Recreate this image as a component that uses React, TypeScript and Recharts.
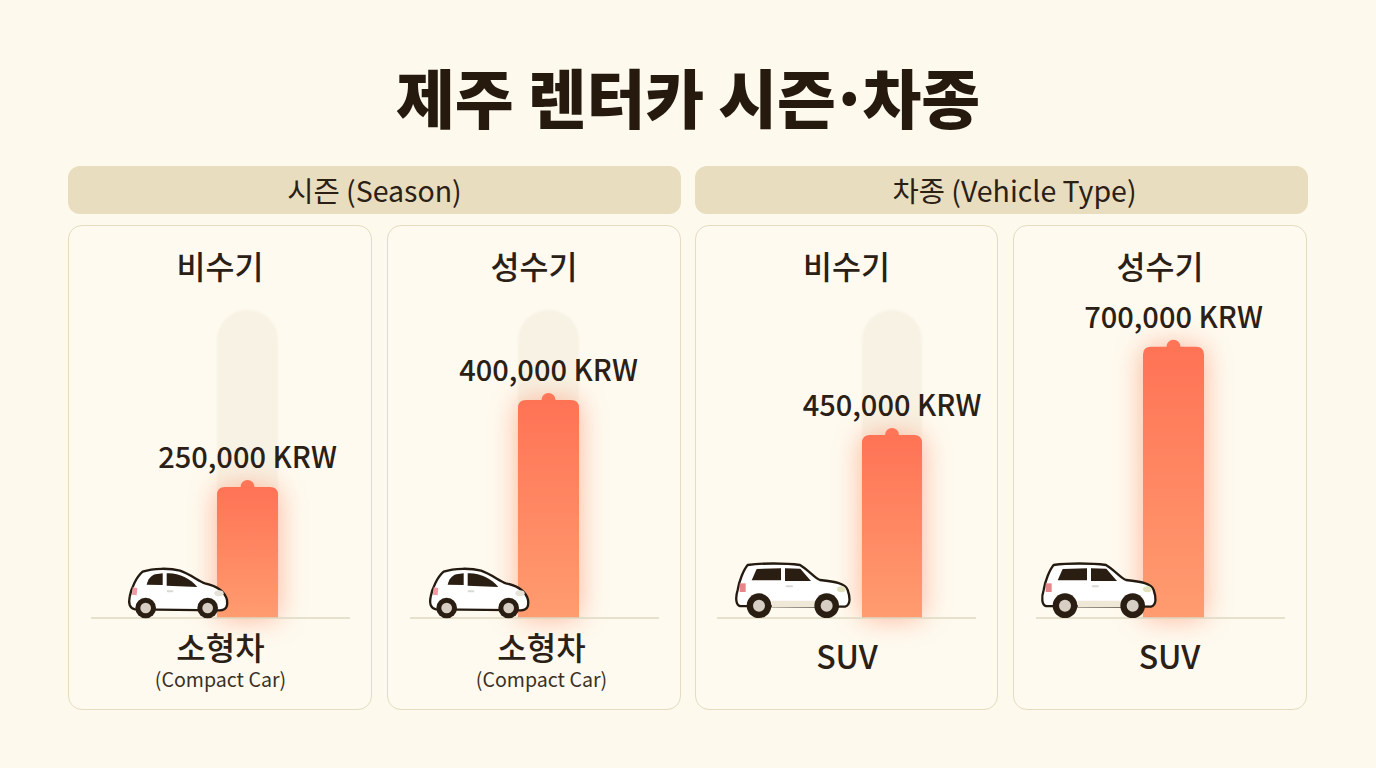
import React from 'react';
import { BarChart, Bar, XAxis, YAxis, LabelList } from 'recharts';

const FONT = '"Noto Sans CJK KR", "Noto Sans", sans-serif';

const seasonLabels = ['비수기', '성수기', '비수기', '성수기'];
const vehicleKo = ['소형차', '소형차', 'SUV', 'SUV'];
const vehicleEn = ['(Compact Car)', '(Compact Car)', '', ''];
const prices = [250000, 400000, 450000, 700000];
const scaleMax = [588000, 565000, 757000, 795000];
const showTrack = [true, true, true, false];
const groupTitles = ['시즌 (Season)', '차종 (Vehicle Type)'];

// card box, plot span, bar padding inside the plot
const layouts = [
  { left: 68, width: 304, plotL: 91, plotR: 350, padL: 126, padR: 72, labelDx: -27, car: 'compact', carX: 120 },
  { left: 387, width: 294, plotL: 410, plotR: 659, padL: 108, padR: 80, labelDx: -7, car: 'compact', carX: 421 },
  { left: 695, width: 303, plotL: 717, plotR: 976, padL: 145, padR: 54, labelDx: -45, car: 'suv', carX: 725 },
  { left: 1013, width: 294, plotL: 1036, plotR: 1285, padL: 107, padR: 81, labelDx: -4, car: 'suv', carX: 1031 },
];

const CARD_TOP = 225;
const CARD_H = 485;
const PLOT_TOP = 310;
const BASELINE = 618;

const PriceBar = (props: any) => {
  const { x, y, width, height, gradId, glowId } = props;
  const r = 8;
  const body = `M${x},${y + height} V${y + r} Q${x},${y} ${x + r},${y} H${x + width - r} Q${x + width},${y} ${x + width},${y + r} V${y + height} Z`;
  return (
    <g>
      <path d={body} fill="#FF9474" opacity={0.7} filter={`url(#${glowId})`} />
      <circle cx={x + width / 2} cy={y} r={7} fill="#FF7557" />
      <path d={body} fill={`url(#${gradId})`} />
    </g>
  );
};

const CategoryTick = (props: any) => {
  const { x, dx, ko, en } = props;
  const cx = x + dx;
  const y = BASELINE - CARD_TOP;
  if (en) {
    return (
      <g fontFamily={FONT} textAnchor="middle" fill="#2A2015">
        <text x={cx} y={y + 42} fontSize={32} fontWeight={500}>{ko}</text>
        <text x={cx} y={y + 69} fontSize={19.6} fill="#3A3023">{en}</text>
      </g>
    );
  }
  return (
    <text x={cx} y={y + 51} fontFamily={FONT} textAnchor="middle" fontSize={32} fontWeight={500} fill="#2A2015">{ko}</text>
  );
};

const PriceLabel = (props: any) => {
  const { x, y, width, value } = props;
  return (
    <text
      x={x + width / 2}
      y={y - 19}
      textAnchor="middle"
      fontFamily={FONT}
      fontSize={29}
      fontWeight={500}
      fill="#2A2015"
    >
      {`${Number(value).toLocaleString('en-US')} KRW`}
    </text>
  );
};

const CompactCar = ({ x }: { x: number }) => (
  <svg width={120} height={80} viewBox="0 0 360 240" style={{ position: 'absolute', left: x, top: 550 }}>
    <path d="M45 178 C28 175 25 160 29 140 C33 115 50 80 68 65 C100 54 150 54 180 62 C210 72 238 95 255 100 C290 108 315 125 321 150 C324 170 318 180 300 181 Z" fill="#fff" stroke="#241A10" strokeWidth={7} strokeLinejoin="round" />
    <path d="M80 104 C84 88 92 77 106 73 L128 70 L128 105 Z" fill="#2A1D12" />
    <path d="M140 70 C175 68 210 85 232 111 L140 107 Z" fill="#2A1D12" />
    <path d="M38 112 L52 114 L50 136 L36 134 Z" fill="#EE9AA0" />
    <ellipse cx={297} cy={130} rx={14} ry={9} fill="#E6E2D8" />
    <rect x={140} y={121} width={20} height={6} rx={3} fill="#D8D8D4" />
    <circle cx={77} cy={174} r={31} fill="#2A1D12" />
    <circle cx={77} cy={174} r={16} fill="#D8CFC4" />
    <circle cx={263} cy={174} r={31} fill="#2A1D12" />
    <circle cx={263} cy={174} r={16} fill="#D8CFC4" />
  </svg>
);

const SuvCar = ({ x }: { x: number }) => (
  <svg width={140} height={80} viewBox="0 0 420 240" style={{ position: 'absolute', left: x, top: 550 }}>
    <path d="M45 168 C32 165 31 142 38 120 C42 95 55 60 68 45 C110 39 180 39 225 45 C250 60 270 85 285 90 C330 95 362 100 368 120 C375 140 378 165 360 170 Z" fill="#fff" stroke="#241A10" strokeWidth={7} strokeLinejoin="round" />
    <path d="M140 152 L272 152 L272 171 L140 171 Z" fill="#EFE8D6" />
    <path d="M80 91 L95 57 L168 55 L168 91 Z" fill="#2A1D12" />
    <path d="M180 55 L226 56 L258 93 L180 93 Z" fill="#2A1D12" />
    <rect x={44} y={100} width={18} height={26} fill="#E8858A" />
    <ellipse cx={349} cy={118} rx={13} ry={9} fill="#E2E3BE" />
    <rect x={182} y={106} width={22} height={6} rx={3} fill="#D8D8D4" />
    <circle cx={102} cy={167} r={37} fill="#2A1D12" />
    <circle cx={102} cy={167} r={18} fill="#D8CFC4" />
    <circle cx={305} cy={167} r={37} fill="#2A1D12" />
    <circle cx={305} cy={167} r={18} fill="#D8CFC4" />
  </svg>
);

const Panel = ({ i }: { i: number }) => {
  const l = layouts[i];
  const data = [{ name: vehicleKo[i], price: prices[i] }];
  const gradId = `barFill${i}`;
  const glowId = `barGlow${i}`;
  const trackBlurId = `trackBlur${i}`;
  return (
    <div
      style={{
        position: 'absolute',
        left: l.left,
        top: CARD_TOP,
        width: l.width,
        height: CARD_H,
        boxSizing: 'border-box',
        background: '#FEFAEF',
        border: '1.5px solid #E3DCC0',
        borderRadius: 14,
      }}
    >
      <div
        style={{
          position: 'absolute',
          left: 0,
          right: 0,
          top: 17,
          textAlign: 'center',
          fontFamily: FONT,
          fontSize: 31.5,
          fontWeight: 500,
          lineHeight: '44px',
          color: '#2A2015',
        }}
      >
        {seasonLabels[i]}
      </div>
      <div style={{ position: 'absolute', left: -1.5, top: -1.5 }}>
        <BarChart
          width={l.width}
          height={CARD_H}
          data={data}
          barCategoryGap={0}
          margin={{
            top: PLOT_TOP - CARD_TOP,
            bottom: 0,
            left: l.plotL - l.left,
            right: l.left + l.width - l.plotR,
          }}
          style={{ overflow: 'visible' }}
        >
          <defs>
            <linearGradient id={gradId} x1="0" y1="0" x2="0" y2="1">
              <stop offset="0%" stopColor="#FF7355" />
              <stop offset="100%" stopColor="#FF9C70" />
            </linearGradient>
            <filter id={glowId} x="-100%" y="-25%" width="300%" height="150%">
              <feGaussianBlur stdDeviation="14" />
            </filter>
            <filter id={trackBlurId} x="-20%" y="-10%" width="140%" height="120%">
              <feGaussianBlur stdDeviation="1.2" />
            </filter>
          </defs>
          <XAxis
            dataKey="name"
            padding={{ left: l.padL, right: l.padR }}
            axisLine={{ stroke: '#DDD8C2', strokeWidth: 1.5 }}
            tickLine={false}
            interval={0}
            height={CARD_TOP + CARD_H - BASELINE}
            tick={(p: any) => <CategoryTick {...p} dx={l.labelDx} ko={vehicleKo[i]} en={vehicleEn[i]} />}
          />
          <YAxis hide domain={[0, scaleMax[i]]} />
          <Bar
            dataKey="price"
            isAnimationActive={false}
            background={showTrack[i] ? ({ fill: '#F7F2E3', radius: 30, filter: `url(#${trackBlurId})` } as any) : false}
            shape={(p: any) => <PriceBar {...p} gradId={gradId} glowId={glowId} />}
          >
            <LabelList dataKey="price" content={PriceLabel} />
          </Bar>
        </BarChart>
      </div>
    </div>
  );
};

export default function App() {
  return (
    <div
      style={{
        position: 'absolute',
        left: 0,
        top: 0,
        width: 1376,
        height: 768,
        overflow: 'hidden',
        background: '#FDF9EC',
      }}
    >
      <div
        style={{
          position: 'absolute',
          left: 0,
          width: 1376,
          top: 50,
          textAlign: 'center',
          fontFamily: FONT,
          fontSize: 64,
          fontWeight: 900,
          letterSpacing: -0.2,
          lineHeight: '90px',
          color: '#261A0F',
        }}
      >
        제주 렌터카 시즌<span style={{ margin: '0 -6px' }}>·</span>차종
      </div>
      {groupTitles.map((t, i) => (
        <div
          key={t}
          style={{
            position: 'absolute',
            left: i === 0 ? 68 : 695,
            top: 166,
            width: 613,
            height: 48,
            boxSizing: 'border-box',
            paddingLeft: i === 0 ? 0 : 26,
            borderRadius: 12,
            background: '#E8DDBE',
            textAlign: 'center',
            fontFamily: FONT,
            fontSize: 28.5,
            lineHeight: '48px',
            color: '#2A2015',
          }}
        >
          {t}
        </div>
      ))}
      {prices.map((_, i) => (
        <Panel key={i} i={i} />
      ))}
      {layouts.map((l, i) =>
        l.car === 'compact' ? <CompactCar key={i} x={l.carX} /> : <SuvCar key={i} x={l.carX} />
      )}
    </div>
  );
}
